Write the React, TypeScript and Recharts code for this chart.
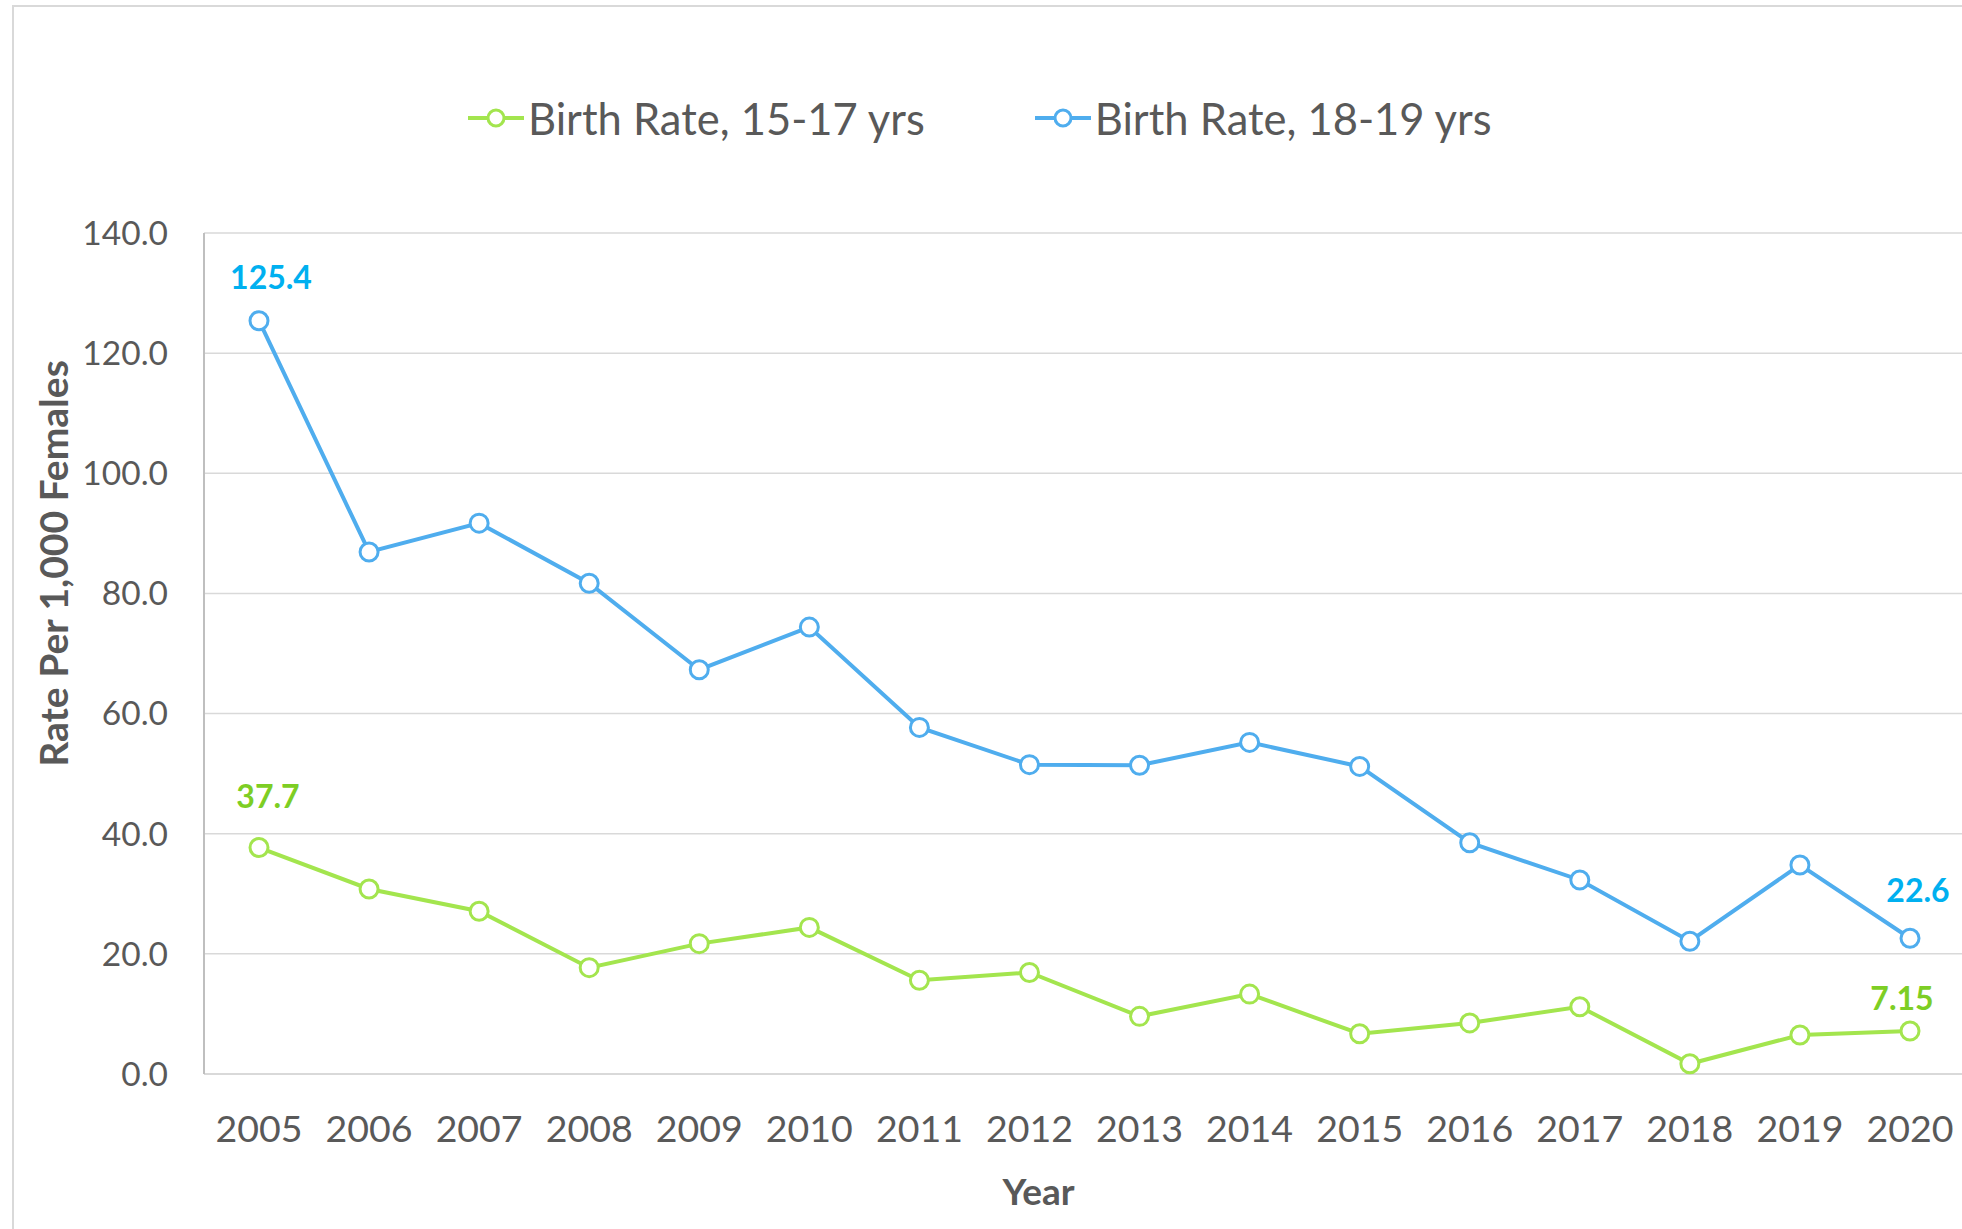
import { LineChart, Line, XAxis, YAxis, CartesianGrid, Legend, LabelList, Label } from 'recharts';

const years = ['2005', '2006', '2007', '2008', '2009', '2010', '2011', '2012', '2013', '2014', '2015', '2016', '2017', '2018', '2019', '2020'];
const rate1517 = [37.7, 30.8, 27.1, 17.7, 21.7, 24.4, 15.6, 16.9, 9.6, 13.3, 6.7, 8.5, 11.2, 1.7, 6.5, 7.15];
const rate1819 = [125.4, 86.9, 91.7, 81.7, 67.3, 74.4, 57.7, 51.5, 51.4, 55.2, 51.2, 38.5, 32.3, 22.1, 34.8, 22.6];
const yTicks = [0, 20, 40, 60, 80, 100, 120, 140];

const data = years.map((year, i) => ({ year, teen: rate1517[i], older: rate1819[i] }));

const GREY = '#595959';
const FONT = 'Lato, "Open Sans", sans-serif';

// label nudges for the first / last point of each series
const labelShift: Record<string, Record<number, [number, number]>> = {
    older: { 0: [12, -32], 15: [8, -36] },
    teen: { 0: [9, -40], 15: [-8, -21] },
};

function endLabel(key: string, color: string, format: (v: number) => string) {
    return (props: any) => {
        const { x, y, value, index } = props;
        if (index !== 0 && index !== years.length - 1) return null;
        const [dx, dy] = labelShift[key][index];
        return (
            <text x={x + dx} y={y + dy} textAnchor="middle" fill={color} fontFamily={FONT} fontWeight={700} fontSize={32}>
                {format(value)}
            </text>
        );
    };
}

function LegendBox(props: any) {
    const items = props.payload || [];
    return (
        <div style={{ display: 'flex', alignItems: 'center', fontFamily: FONT, fontSize: 43.5, color: GREY, whiteSpace: 'nowrap' }}>
            {items.map((item: any, i: number) => (
                <div key={item.value} style={{ display: 'flex', alignItems: 'center', marginRight: i === 0 ? 110 : 0 }}>
                    <svg width={56} height={24} style={{ marginRight: 4 }}>
                        <line x1={0} y1={12} x2={56} y2={12} stroke={item.color} strokeWidth={4} />
                        <circle cx={28} cy={12} r={8} fill="#fff" stroke={item.color} strokeWidth={3} />
                    </svg>
                    <span>{item.value}</span>
                </div>
            ))}
        </div>
    );
}

export default function App() {
    return (
        <div style={{ position: 'absolute', left: 0, top: 0, width: 1962, height: 1229, overflow: 'hidden', background: '#fff' }}>
            <div style={{ position: 'absolute', left: 12, top: 5, width: 2000, height: 1300, borderLeft: '2px solid #D9D9D9', borderTop: '2px solid #D9D9D9' }} />
            <div style={{ position: 'absolute', left: 0, top: 0 }}>
                <LineChart width={1966} height={1229} data={data} margin={{ top: 233, right: 1, bottom: 0, left: 0 }}>
                    <CartesianGrid vertical={false} stroke="#D9D9D9" strokeWidth={1.5} />
                    <XAxis
                        dataKey="year"
                        height={155}
                        padding={{ left: 55, right: 55 }}
                        stroke="#D9D9D9"
                        strokeWidth={2}
                        tickLine={false}
                        tickSize={0}
                        tickMargin={41}
                        tick={{ fill: GREY, fontFamily: FONT, fontSize: 37.5 }}
                        interval={0}
                    >
                        <Label
                            content={(p: any) => (
                                <text x={p.viewBox.x + p.viewBox.width / 2 - 46} y={p.viewBox.y + 131} textAnchor="middle" fill={GREY} fontFamily={FONT} fontWeight={700} fontSize={37}>
                                    Year
                                </text>
                            )}
                        />
                    </XAxis>
                    <YAxis
                        width={204}
                        domain={[0, 140]}
                        ticks={yTicks}
                        tickFormatter={(v: number) => v.toFixed(1)}
                        stroke="#BFBFBF"
                        strokeWidth={2}
                        tickLine={false}
                        tickSize={0}
                        tickMargin={36}
                        tick={{ fill: GREY, fontFamily: FONT, fontSize: 33.5 }}
                    >
                        <Label
                            content={(p: any) => {
                                const cx = 53;
                                const cy = p.viewBox.y + p.viewBox.height / 2 - 90;
                                return (
                                    <text x={cx} y={cy} transform={`rotate(-90 ${cx} ${cy})`} textAnchor="middle" dominantBaseline="central" fill={GREY} fontFamily={FONT} fontWeight={700} fontSize={39}>
                                        Rate Per 1,000 Females
                                    </text>
                                );
                            }}
                        />
                    </YAxis>
                    <Legend
                        layout="vertical"
                        align="center"
                        verticalAlign="middle"
                        content={LegendBox}
                        wrapperStyle={{ top: 92, left: 468, width: 1200 }}
                    />
                    <Line
                        dataKey="teen"
                        name="Birth Rate, 15-17 yrs"
                        stroke="#A3E54E"
                        strokeWidth={4}
                        dot={{ r: 9, fill: '#fff', stroke: '#A3E54E', strokeWidth: 3 }}
                        isAnimationActive={false}
                    >
                        <LabelList dataKey="teen" content={endLabel('teen', '#7DCE24', (v) => String(v))} />
                    </Line>
                    <Line
                        dataKey="older"
                        name="Birth Rate, 18-19 yrs"
                        stroke="#4FADEE"
                        strokeWidth={4}
                        dot={{ r: 9, fill: '#fff', stroke: '#4FADEE', strokeWidth: 3 }}
                        isAnimationActive={false}
                    >
                        <LabelList dataKey="older" content={endLabel('older', '#00B0F0', (v) => v.toFixed(1))} />
                    </Line>
                </LineChart>
            </div>
        </div>
    );
}
